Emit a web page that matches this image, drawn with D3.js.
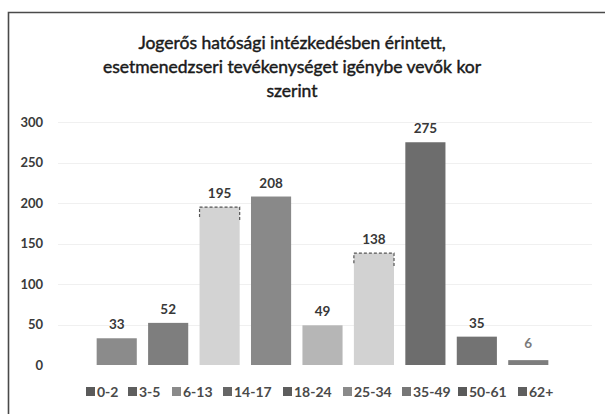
<!DOCTYPE html>
<html>
<head>
<meta charset="utf-8">
<script src="https://cdn.jsdelivr.net/npm/d3@7/dist/d3.min.js"></script>
<style>
  html, body { margin: 0; padding: 0; background: #fff; }
  svg { display: block; }
  text { font-family: Lato, "Open Sans", sans-serif; }
</style>
</head>
<body>
<svg id="chart" width="605" height="414"></svg>
<script>
// Age groups and number of people per group
const categories = ["0-2", "3-5", "6-13", "14-17", "18-24", "25-34", "35-49", "50-61", "62+"];
const values = [33, 52, 195, 208, 49, 138, 275, 35, 6];
const barColors = ["#8b8b8b", "#7e7e7e", "#d3d3d3", "#898989", "#b6b6b6", "#d2d2d2", "#6d6d6d", "#737373", "#7d7d7d"];
const legendColors = ["#5a5a5a", "#5e5e5e", "#8a8a8a", "#666", "#5d5d5d", "#8a8a8a", "#777", "#5a5a5a", "#5f5f5f"];
const yTicks = [0, 50, 100, 150, 200, 250, 300];
const titleLines = [
  "Jogerős hatósági intézkedésben érintett,",
  "esetmenedzseri tevékenységet igénybe vevők kor",
  "szerint"
];

const svg = d3.select("#chart");

// outer frame (left and top edges)
svg.append("path")
  .attr("d", "M8.5,414 V12.5 H605")
  .attr("fill", "none")
  .attr("stroke", "#4a4a4a")
  .attr("stroke-width", 1.6);

// title, slightly heavier than regular weight
svg.append("g").selectAll("text")
  .data(titleLines)
  .join("text")
  .attr("x", 292)
  .attr("y", (d, i) => 49 + i * 24)
  .attr("text-anchor", "middle")
  .attr("font-size", 17.5)
  .attr("font-weight", 400)
  .attr("fill", "#1a1a1a")
  .attr("stroke", "#1a1a1a")
  .attr("stroke-width", 0.45)
  .text(d => d);

const x = d3.scaleBand()
  .domain(categories)
  .range([91, 554])
  .paddingInner(0.22)
  .paddingOuter(0.11);

const y = d3.scaleLinear()
  .domain([0, 300])
  .range([365, 122]);

// gridlines
svg.append("g").selectAll("line")
  .data(yTicks.filter(t => t > 0))
  .join("line")
  .attr("x1", 58).attr("x2", 592)
  .attr("y1", d => Math.round(y(d)) + 0.5)
  .attr("y2", d => Math.round(y(d)) + 0.5)
  .attr("stroke", "#f0f0f0")
  .attr("stroke-width", 1);

// y axis labels
const yAxis = d3.axisLeft(y).tickValues(yTicks).tickSize(0).tickPadding(0);
const gy = svg.append("g").attr("transform", "translate(43,0)").call(yAxis);
gy.select(".domain").remove();
gy.selectAll("text")
  .attr("font-family", "Lato, 'Open Sans', sans-serif")
  .attr("font-size", 13)
  .attr("font-weight", 700)
  .attr("fill", "#3a3a3a");

// bars
const data = categories.map((c, i) => ({ cat: c, value: values[i], color: barColors[i] }));
svg.append("g").selectAll("rect")
  .data(data)
  .join("rect")
  .attr("x", d => x(d.cat))
  .attr("y", d => y(d.value))
  .attr("width", x.bandwidth())
  .attr("height", d => y(0) - y(d.value))
  .attr("fill", d => d.color);

// dashed top outline on the light bars
svg.append("g").selectAll("path")
  .data(data.filter(d => d.cat === "6-13" || d.cat === "25-34"))
  .join("path")
  .attr("d", d => {
    const x0 = x(d.cat), x1 = x0 + x.bandwidth(), yt = y(d.value);
    return `M${x0},${yt + 10} V${yt} H${x1} V${yt + 14}`;
  })
  .attr("fill", "none")
  .attr("stroke", "#555")
  .attr("stroke-width", 1.2)
  .attr("stroke-dasharray", "3,2");

// value labels
svg.append("g").selectAll("text")
  .data(data)
  .join("text")
  .attr("x", d => x(d.cat) + x.bandwidth() / 2)
  .attr("y", d => d.cat === "62+" ? y(d.value) - 12 : y(d.value) - 9)
  .attr("text-anchor", "middle")
  .attr("font-size", 13.5)
  .attr("font-weight", 700)
  .attr("fill", d => d.cat === "62+" ? "#7a7a7a" : "#383838")
  .text(d => d.value);

// legend
const legendX = [86, 128, 172, 223, 283, 343, 402, 458, 518];
const lg = svg.append("g").selectAll("g")
  .data(data)
  .join("g")
  .attr("transform", (d, i) => `translate(${legendX[i]},392)`);
lg.append("rect")
  .attr("x", 0).attr("y", -5)
  .attr("width", 9).attr("height", 9)
  .attr("fill", (d, i) => legendColors[i]);
lg.append("text")
  .attr("x", 11)
  .attr("y", 5)
  .attr("font-size", 14)
  .attr("font-weight", 700)
  .attr("fill", "#4a4a4a")
  .text(d => d.cat);
</script>
</body>
</html>
